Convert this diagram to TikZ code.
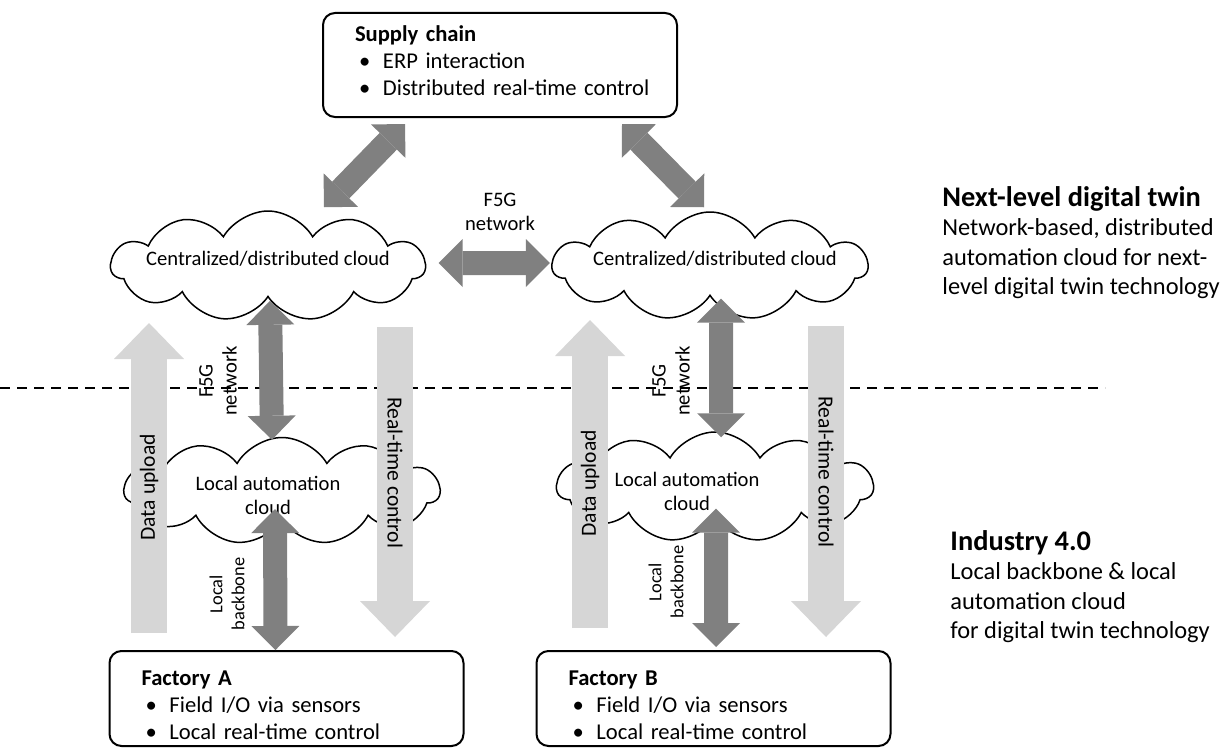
\documentclass[tikz,border=0pt]{standalone}
\usepackage{fontspec}
\setmainfont{Carlito}
\usetikzlibrary{arrows.meta,positioning,shapes.symbols}
\definecolor{linkdark}{RGB}{128,128,128}
\definecolor{linklight}{RGB}{214,214,214}
\newcommand{\fs}[2]{\fontsize{#1}{#2}\selectfont}
\newcommand{\bul}[1]{\mbox{\hspace*{2pt}\makebox[12pt][l]{\textbullet}#1}}
\newcommand{\hd}[1]{\rule{0pt}{14.5pt}\textbf{#1}}

\begin{document}
\begin{tikzpicture}[x=0.5pt,y=-0.5pt, every node/.style={font=\fs{10.3}{12}},
  box/.style={draw,line width=1pt,rounded corners=6pt,align=left,text
  width=145pt,inner xsep=16pt,inner ysep=0pt,font=\fs{11.3}{13.5}},
  puff/.style={cloud,draw,line width=0.75pt,cloud puffs=11,cloud puff
  arc=120,cloud ignores aspect,inner sep=0pt},
  dark/.style={line width=12pt,draw=linkdark,{Triangle[length=12pt,width=24pt,line
  width=0pt]}-{Triangle[length=12pt,width=24pt,line width=0pt]}},
  light/.style={line width=18pt,draw=linklight,-{Triangle[length=18pt,width=35pt,line
  width=0pt]}}, lab/.style={align=center,inner sep=0pt},
  bone/.style={lab,font=\fs{9.2}{11}}, big/.style={font=\fs{10.8}{13}},
  side/.style={align=left,inner sep=0pt,anchor=north west,font=\fs{12.2}{14.7}},
  sep/.style={line width=0.75pt,dash pattern=on 5pt off 3.5pt}]
  \useasboundingbox (0,0) rectangle (1224,749);
  \draw[sep] (0,388) -- (1105,388);
  % boxes and clouds
  \node[box,minimum height=52pt] (supply) at (500,65) {\textbf{Supply
  chain}\\\bul{ERP interaction}\\\bul{Distributed real-time
  control\rule[-4pt]{0pt}{0pt}}};
  \node[box,minimum height=47.5pt] (facA) at (286.5,698.5) {\hd{Factory
  A}\\\bul{Field I/O via sensors}\\\bul{Local real-time control}};
  \node[box,minimum height=47.5pt] (facB) at (713.5,698.5) {\hd{Factory
  B}\\\bul{Field I/O via sensors}\\\bul{Local real-time control}};
  \node[puff,minimum width=157pt,minimum height=55pt,label={[lab,yshift=3.5pt]center:Centralized/distributed
  cloud}] (cenA) at (268,266) {};
  \node[puff,minimum width=157.5pt,minimum height=54pt,label={[lab,xshift=2.5pt,yshift=3.5pt]center:Centralized/distributed
  cloud}] (cenB) at (710,266) {};
  \node[puff,minimum width=157.5pt,minimum height=53.5pt,label={[lab,xshift=-7pt,yshift=-2pt]center:Local
  automation\\cloud}] (locA) at (282,491) {};
  \node[puff,minimum width=158pt,minimum height=55pt,label={[lab,xshift=-14pt,yshift=-2pt]center:Local
  automation\\cloud}] (locB) at (715,487) {};
  % network links
  \draw[dark] ([shift={(83,6)}]supply.south west) -- ([shift={(56,-3)}]cenA.north);
  \draw[dark] ([shift={(-56,6)}]supply.south east) -- ([shift={(-6,-4)}]cenB.north);
  \draw[dark] ([shift={(12,-3)}]cenA.east) -- ([shift={(-1,-3)}]cenB.west);
  \draw[dark] ([shift={(2,3)}]cenA.south) -- ([shift={(-10,3)}]locA.north);
  \draw[dark] ([shift={(-7,-12)}]locA.south) -- ([shift={(-11,0)}]facA.north);
  \draw[dark] ([shift={(11,2)}]cenB.south) -- ([shift={(6,6)}]locB.north);
  \draw[dark] ([shift={(1,-10)}]locB.south) -- ([shift={(2.5,-3)}]facB.north);
  % upload and control
  \coordinate (upA0) at (149,633); \coordinate (upA1) at (149,323);
  \coordinate (ctA0) at (395,327); \coordinate (ctA1) at (395,637);
  \coordinate (upB0) at (590,628); \coordinate (upB1) at (590,320);
  \coordinate (ctB0) at (826,326); \coordinate (ctB1) at (826,637);
  \draw[light] (upA0) -- node[big,pos=.47,rotate=90] {Data upload} (upA1);
  \draw[light] (ctA0) -- node[big,pos=.47,rotate=-90] {Real-time control} (ctA1);
  \draw[light] (upB0) -- node[big,pos=.47,rotate=90] {Data upload} (upB1);
  \draw[light] (ctB0) -- node[big,pos=.47,rotate=-90] {Real-time control} (ctB1);
  % link labels
  \node[lab] (netH) at (500,212) {F5G\\network};
  \node[lab,rotate=90] (netA) at (218,381) {F5G\\network};
  \node[lab,rotate=90] (netB) at (671,381) {F5G\\network};
  \node[bone,rotate=90] (boneA) at (227,594) {Local\\backbone};
  \node[bone,rotate=90] (boneB) at (666,582) {Local\\backbone};
  % levels
  \node[side] (twin) at (942,186) {{\fs{14.2}{15}\bfseries Next-level digital
  twin}\\Network-based, distributed\\automation cloud for next-\\level digital
  twin technology};
  \node[side] (ind) at (950,530) {{\fs{14.2}{15}\bfseries Industry
  4.0}\\Local backbone \& local\\automation cloud\\for digital twin technology};
\end{tikzpicture}
\end{document}
